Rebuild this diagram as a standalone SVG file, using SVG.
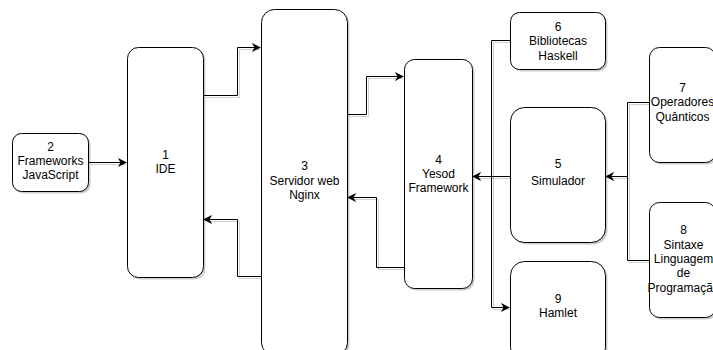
<svg xmlns="http://www.w3.org/2000/svg" width="713" height="350" viewBox="0 0 713 350">
<style>
.n{fill:#fff;stroke:#000;stroke-width:1}
.s{fill:#000;fill-opacity:0.2;stroke:none}
.t{font-family:"Liberation Sans",Arial,sans-serif;font-size:12px;fill:#000;text-anchor:middle}
.e{fill:none;stroke:#000;stroke-width:1}
.es{fill:none;stroke:#000;stroke-opacity:0.18;stroke-width:1}
</style>
<defs>
<marker id="a" viewBox="0 0 10 10" refX="9" refY="5" markerWidth="9" markerHeight="9" orient="auto" markerUnits="userSpaceOnUse">
<path d="M0,0 L10,5 L0,10 L3,5 Z" fill="#000"/>
</marker>
</defs>
<rect width="713" height="350" fill="#fff"/>
<g id="connectors">
<g transform="translate(2,2)">
<path class="es" d="M88.5,162.5 H124"/>
<path class="es" d="M203.5,95.5 H237.5 V47.5 H258"/>
<path class="es" d="M261.5,276.5 H237.5 V219.5 H206"/>
<path class="es" d="M347.5,114.5 H366.5 V76.5 H401"/>
<path class="es" d="M404.5,267.5 H376.5 V197.5 H350"/>
<path class="es" d="M510.5,176.5 H475"/>
<path class="es" d="M510.5,40.5 H491.5 V176.5"/>
<path class="es" d="M491.5,176.5 V307.5 H507"/>
<path class="es" d="M649.5,102.5 H627.5 V176.5 H608"/>
<path class="es" d="M649.5,260.5 H627.5 V176.5"/>
</g>
<path class="e" d="M88.5,162.5 H126" marker-end="url(#a)"/>
<path class="e" d="M203.5,95.5 H237.5 V47.5 H260" marker-end="url(#a)"/>
<path class="e" d="M261.5,276.5 H237.5 V219.5 H204" marker-end="url(#a)"/>
<path class="e" d="M347.5,114.5 H366.5 V76.5 H403" marker-end="url(#a)"/>
<path class="e" d="M404.5,267.5 H376.5 V197.5 H348" marker-end="url(#a)"/>
<path class="e" d="M510.5,176.5 H473" marker-end="url(#a)"/>
<path class="e" d="M510.5,40.5 H491.5 V176.5"/>
<path class="e" d="M491.5,176.5 V307.5 H509" marker-end="url(#a)"/>
<path class="e" d="M649.5,102.5 H627.5 V176.5 H606" marker-end="url(#a)"/>
<path class="e" d="M649.5,260.5 H627.5 V176.5"/>
</g>
<g id="n2">
<rect class="s" x="14.5" y="135.5" width="76" height="58" rx="9"/>
<rect class="n" x="12.5" y="133.5" width="76" height="58" rx="9"/>
<text class="t" x="50.5" y="151">2</text>
<text class="t" x="50.5" y="165">Frameworks</text>
<text class="t" x="50.5" y="179">JavaScript</text>
</g>
<g id="n1">
<rect class="s" x="129.5" y="49.5" width="76" height="230" rx="11"/>
<rect class="n" x="127.5" y="47.5" width="76" height="230" rx="11"/>
<text class="t" x="165.5" y="159">1</text>
<text class="t" x="165.5" y="173">IDE</text>
</g>
<g id="n3">
<rect class="s" x="263.5" y="11.5" width="86" height="346" rx="13"/>
<rect class="n" x="261.5" y="9.5" width="86" height="346" rx="13"/>
<text class="t" x="304.5" y="170">3</text>
<text class="t" x="304.5" y="185">Servidor web</text>
<text class="t" x="304.5" y="199">Nginx</text>
</g>
<g id="n4">
<rect class="s" x="406.5" y="61.5" width="68" height="229" rx="10"/>
<rect class="n" x="404.5" y="59.5" width="68" height="229" rx="10"/>
<text class="t" x="438.5" y="164">4</text>
<text class="t" x="438.5" y="178">Yesod</text>
<text class="t" x="438.5" y="192">Framework</text>
</g>
<g id="n6">
<rect class="s" x="512.5" y="14.5" width="95" height="57" rx="9"/>
<rect class="n" x="510.5" y="12.5" width="95" height="57" rx="9"/>
<text class="t" x="558" y="31">6</text>
<text class="t" x="558" y="45">Bibliotecas</text>
<text class="t" x="558" y="60">Haskell</text>
</g>
<g id="n5">
<rect class="s" x="512.5" y="109.5" width="95" height="135" rx="14"/>
<rect class="n" x="510.5" y="107.5" width="95" height="135" rx="14"/>
<text class="t" x="558" y="168">5</text>
<text class="t" x="558" y="185">Simulador</text>
</g>
<g id="n9">
<rect class="s" x="512.5" y="263.5" width="95" height="100" rx="14"/>
<rect class="n" x="510.5" y="261.5" width="95" height="100" rx="14"/>
<text class="t" x="558" y="303">9</text>
<text class="t" x="558" y="317">Hamlet</text>
</g>
<g id="n7">
<rect class="s" x="651.5" y="49.5" width="66" height="115" rx="10"/>
<rect class="n" x="649.5" y="47.5" width="66" height="115" rx="10"/>
<text class="t" x="682.5" y="92">7</text>
<text class="t" x="682.5" y="106">Operadores</text>
<text class="t" x="682.5" y="121">Quânticos</text>
</g>
<g id="n8">
<rect class="s" x="651.5" y="204.5" width="66" height="115" rx="10"/>
<rect class="n" x="649.5" y="202.5" width="66" height="115" rx="10"/>
<text class="t" x="683.5" y="234">8</text>
<text class="t" x="683.5" y="249">Sintaxe</text>
<text class="t" x="683.5" y="263">Linguagem</text>
<text class="t" x="683.5" y="277">de</text>
<text class="t" x="683.5" y="292">Programação</text>
</g>
</svg>
